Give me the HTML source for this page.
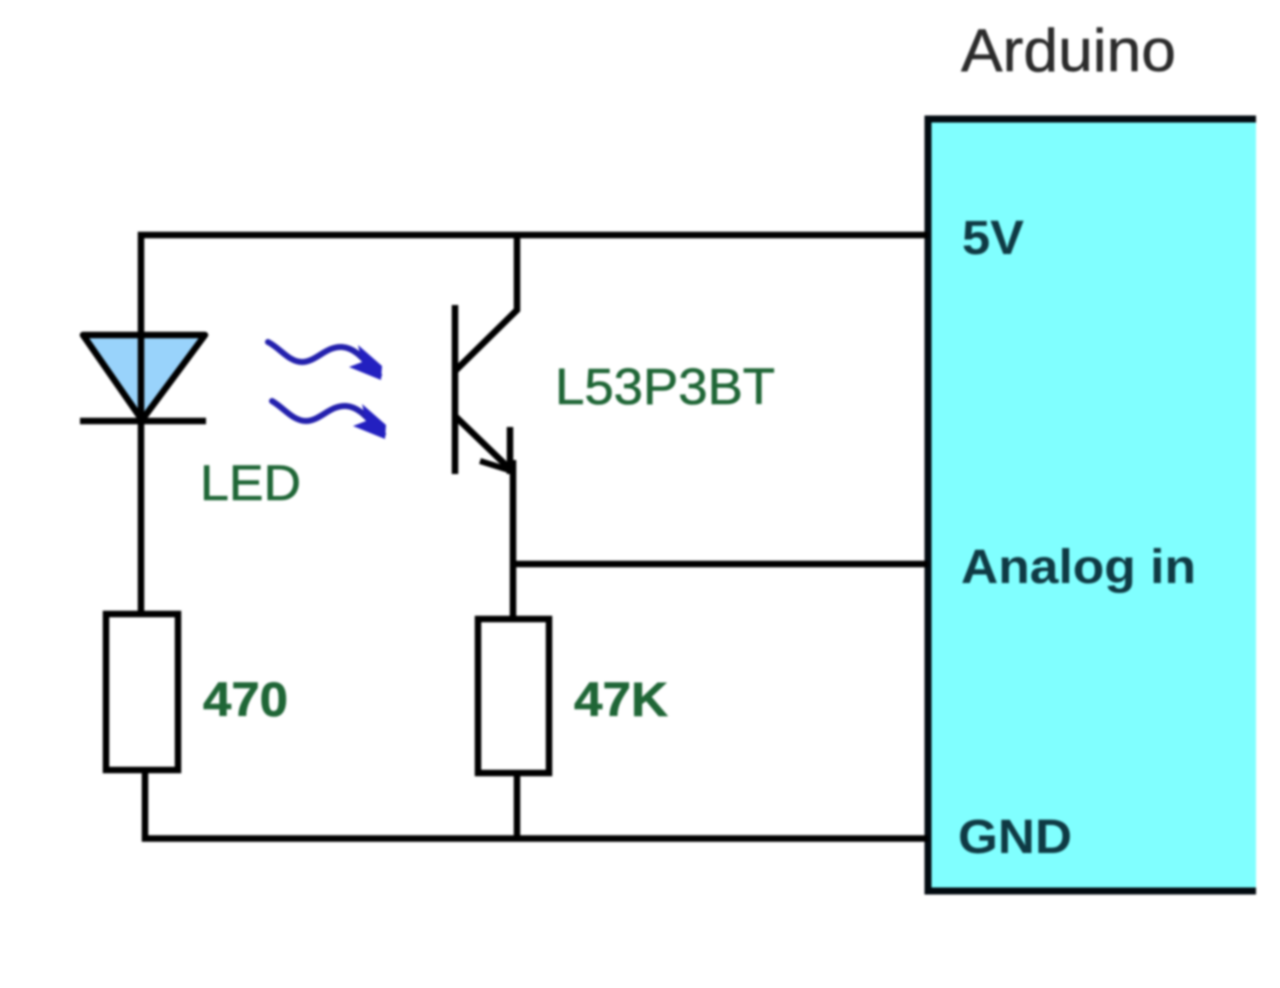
<!DOCTYPE html>
<html><head><meta charset="utf-8"><style>
html,body{margin:0;padding:0;background:#fff;width:1280px;height:988px;overflow:hidden}
svg{display:block}
text{font-family:"Liberation Sans",sans-serif}
</style></head><body>
<svg width="1280" height="988" viewBox="0 0 1280 988" xmlns="http://www.w3.org/2000/svg">
<rect x="0" y="0" width="1280" height="988" fill="#fff"/>
<g style="filter:blur(1px)">
<!-- Arduino box -->
<rect x="928" y="119" width="328" height="772" fill="#80ffff"/>
<path d="M1256 119H928V891H1256" fill="none" stroke="#020a10" stroke-width="7"/>
<!-- LED fill -->
<path d="M84 336H204L142 420Z" fill="#99d3fb"/>
<!-- Wires -->
<g fill="none" stroke="#000" stroke-width="6.5">
<path d="M928 235H141V612"/>
<path d="M517 235V310L455 371"/>
<path d="M455 305V474"/>
<path d="M456 417L512 471"/>
<path d="M510 427V474"/>
<path d="M513 460V618"/>
<path d="M513 564H928"/>
<path d="M145 771V838.500H928"/>
<path d="M517 773V838"/>
<rect x="106" y="614" width="72" height="156"/>
<rect x="478" y="619" width="71" height="154"/>
<path d="M83 335H205L142 420Z" stroke-linejoin="round"/>
<path d="M80 421H206"/>
<path d="M480 461L512 471" stroke-width="6"/>
</g>
<!-- Light arrows -->
<g fill="none" stroke="#2320ad" stroke-width="6" stroke-linecap="round">
<path d="M268 342C280 348 289 362 302 362C316 362 326 346 342 347C356 348 364 360 379 375"/>
<path d="M272 401C284 408 293 421 306 421C320 421 330 405 346 406C360 407 368 419 383 434"/>
</g>
<path d="M358 345L382 366L381 380L349 367L362 362Z" fill="#2320c0"/>
<path d="M362 404L386 425L385 439L353 426L366 421Z" fill="#2320c0"/>
<!-- Labels -->
<g fill="#1f6636" stroke="#1f6636" stroke-width="0.6">
<text x="555" y="404" font-size="51" textLength="220" lengthAdjust="spacingAndGlyphs">L53P3BT</text>
<text x="200" y="500" font-size="50" textLength="101" lengthAdjust="spacingAndGlyphs">LED</text>
<text x="203" y="716" font-size="48" font-weight="bold" textLength="85" lengthAdjust="spacingAndGlyphs">470</text>
<text x="574" y="716" font-size="48" font-weight="bold" textLength="94" lengthAdjust="spacingAndGlyphs">47K</text>
</g>
<text x="961" y="71" fill="#2b2b2b" stroke="#2b2b2b" stroke-width="0.5" font-size="60" textLength="215" lengthAdjust="spacingAndGlyphs">Arduino</text>
<g fill="#0f3a44" font-weight="bold" font-size="48">
<text x="962" y="254" textLength="62" lengthAdjust="spacingAndGlyphs">5V</text>
<text x="961" y="583" textLength="235" lengthAdjust="spacingAndGlyphs">Analog in</text>
<text x="958" y="853" textLength="114" lengthAdjust="spacingAndGlyphs">GND</text>
</g>
</g>
</svg>
</body></html>
